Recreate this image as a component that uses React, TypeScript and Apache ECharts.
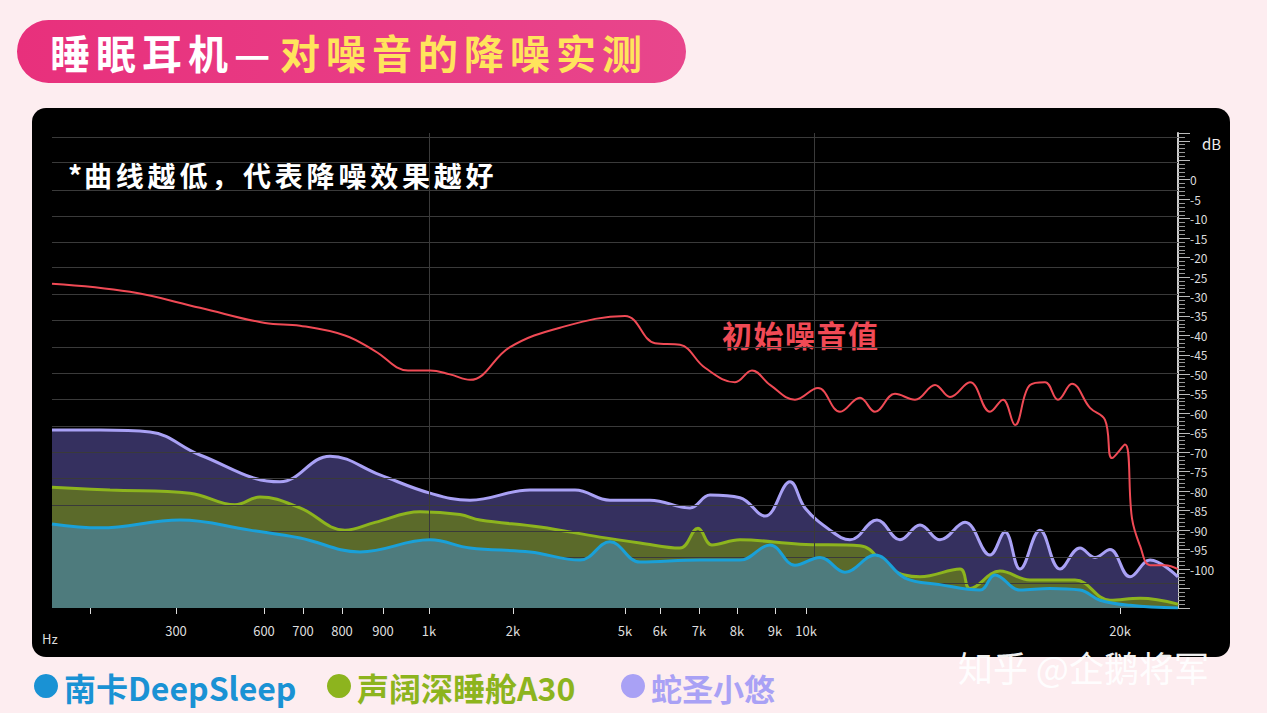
import React, { useEffect, useRef } from "react";
import * as echarts from "echarts";

// x values are positions along the frequency axis (0 = left edge, 1126 = right edge)
const tickPos = [38, 124, 212, 251, 290, 331, 377, 461, 573, 608, 647, 685, 723, 754, 1068];
const tickLabels = ["", "300", "600", "700", "800", "900", "1k", "2k", "5k", "6k", "7k", "8k", "9k", "10k", "20k"];
const gridPos = [377, 762];
const gridDb = [11, 4.4, -2.6, -9.3, -16, -22.6, -29.5, -36.2, -42.9, -49.8, -56.5, -63.2, -69.9, -76.6, -83.5, -90.2, -96.9, -103.6];

const rawInit = [
  [0, -26.7], [78, -28.8], [148, -32.9], [213, -36.8], [248, -37.5], [293, -40], [323, -44], [356, -49],
  [378, -49], [398, -50], [418, -51.4], [458, -43], [508, -38], [573, -35], [603, -42], [628, -42.4],
  [653, -48.3], [683, -52], [700, -49], [718, -52.7], [743, -56.5], [766, -53.5], [788, -59.6], [808, -56],
  [823, -59.6], [843, -55], [863, -56.5], [883, -52.7], [898, -55.8], [918, -52], [938, -59.6], [951, -56.5],
  [963, -63], [978, -52.7], [993, -52], [1006, -56.5], [1020, -52.4], [1038, -58.6], [1053, -61.7],
  [1060, -71.5], [1073, -68], [1080, -87], [1088, -94], [1098, -99], [1113, -99], [1126, -100],
];
const snakeSaint = [
  [0, -64.3], [48, -64.3], [98, -64.8], [148, -70.7], [228, -77.6], [278, -71], [328, -75.8], [378, -80.5],
  [418, -82.3], [478, -79.7], [523, -79.7], [558, -82.3], [598, -82.3], [638, -84.3], [658, -81], [688, -81.7],
  [713, -86.4], [738, -77.6], [753, -84.3], [778, -90], [798, -92.5], [825, -87.4], [848, -92.5], [868, -88.7],
  [888, -92.5], [913, -88], [938, -96.4], [953, -90.5], [968, -100], [988, -90], [1008, -100], [1028, -94.6],
  [1043, -97], [1058, -95], [1078, -102], [1098, -97.7], [1126, -102],
];
const soundcore = [
  [0, -79], [58, -79.7], [138, -80.5], [183, -83.5], [208, -81.5], [248, -84.3], [293, -90], [323, -88],
  [368, -85.3], [408, -86], [428, -87.4], [488, -89.2], [548, -91.8], [588, -93.3], [628, -94.6], [646, -89.5],
  [660, -93.8], [688, -92.5], [748, -93.6], [808, -94], [838, -100], [868, -102], [908, -100], [918, -105],
  [948, -100.5], [978, -102.8], [1023, -102.8], [1058, -108], [1088, -107.5], [1126, -109],
];
const nank = [
  [0, -88.4], [48, -89.4], [128, -87.4], [198, -90], [248, -92], [308, -95.6], [378, -92.5], [418, -94.6],
  [478, -95.6], [528, -97.7], [558, -93], [588, -98.2], [648, -97.7], [688, -97.7], [718, -93.8], [743, -99],
  [768, -97], [793, -100.8], [823, -96.4], [853, -102.3], [888, -104], [928, -105.4], [943, -101.5],
  [968, -105.4], [998, -105], [1028, -105.4], [1048, -108], [1078, -109.3], [1126, -110],
];

const font = "'Noto Sans CJK SC', 'Noto Sans', sans-serif";

// lay out a string one glyph at a time with a fixed pitch (the poster uses wide tracking)
const spaced = (text: string, x: number, y: number, pitch: number, fill: string, size: number, weight = "bold") =>
  Array.from(text).map((ch, i) => ({
    type: "text",
    x: x + i * pitch,
    y,
    style: { text: ch, fill, fontSize: size, fontWeight: weight, fontFamily: font, verticalAlign: "middle" },
  }));

const App = () => {
  const ref = useRef<HTMLDivElement>(null);

  useEffect(() => {
    const chart = echarts.init(ref.current, null, { renderer: "svg" });
    const area = (name: string, data: number[][], line: string, fill: string, z: number, extra = {}) => ({
      name,
      type: "line",
      data,
      smooth: 0.4,
      symbol: "none",
      z,
      lineStyle: { color: line, width: 3 },
      areaStyle: { color: fill, opacity: 1, origin: "start" },
      ...extra,
    });
    chart.setOption({
      animation: false,
      backgroundColor: "#fdedf0",
      textStyle: { fontFamily: font },
      grid: { left: 52, right: 89, top: 133, bottom: 105 },
      xAxis: {
        type: "value",
        min: 0,
        max: 1126,
        axisLine: { show: false, onZero: false },
        splitLine: { show: false },
        axisTick: { show: true, customValues: tickPos, length: 6, lineStyle: { color: "#ddd" } },
        axisLabel: {
          customValues: tickPos,
          color: "#ddd",
          fontSize: 13,
          margin: 16,
          formatter: (v: number) => tickLabels[tickPos.indexOf(v)] ?? "",
        },
      },
      yAxis: {
        type: "value",
        position: "right",
        min: -110,
        max: 12,
        interval: 5,
        axisLine: { show: true, onZero: false, lineStyle: { color: "#ccc", width: 2 } },
        axisTick: { show: true, length: 12, lineStyle: { color: "#bbb" } },
        minorTick: { show: true, splitNumber: 5, length: 7, lineStyle: { color: "#999" } },
        splitLine: { show: false },
        axisLabel: {
          color: "#ddd",
          fontSize: 12,
          margin: 12,
          formatter: (v: number) => (v <= 0 && v >= -100 ? String(v) : ""),
        },
      },
      graphic: [
        { type: "rect", z: -10, shape: { x: 32, y: 108, width: 1198, height: 549, r: 14 }, style: { fill: "#000" } },
        {
          type: "rect",
          shape: { x: 17, y: 20, width: 669, height: 63, r: 32 },
          style: {
            fill: new echarts.graphic.LinearGradient(0, 0, 1, 0, [
              { offset: 0, color: "#e8307c" },
              { offset: 1, color: "#e8468c" },
            ]),
          },
        },
        ...spaced("睡眠耳机—", 50, 52, 46, "#fff", 40),
        ...spaced("对噪音的降噪实测", 280, 52, 46, "#ffe45c", 40),
        ...spaced("*", 68, 175, 0, "#fff", 28),
        ...spaced("曲线越低，代表降噪效果越好", 84, 175, 31.8, "#fff", 28),
        ...spaced("初始噪音值", 722, 334, 31.5, "#f04a55", 30),
        { type: "text", x: 1202, y: 143, style: { text: "dB", fill: "#eee", fontSize: 15, fontFamily: font, verticalAlign: "middle" } },
        { type: "text", x: 42, y: 638, style: { text: "Hz", fill: "#ddd", fontSize: 13, fontFamily: font, verticalAlign: "middle" } },
        { type: "text", x: 958, y: 666, style: { text: "知乎 @企鹅将军", fill: "#fff", fontSize: 35, fontFamily: font, verticalAlign: "middle", opacity: 0.95 } },
        { type: "circle", shape: { cx: 46, cy: 686, r: 12 }, style: { fill: "#1a92d4" } },
        { type: "text", x: 64, y: 687, style: { text: "南卡DeepSleep", fill: "#1a92d4", fontSize: 32, fontWeight: "bold", fontFamily: font, verticalAlign: "middle" } },
        { type: "circle", shape: { cx: 339, cy: 686, r: 12 }, style: { fill: "#8db41e" } },
        { type: "text", x: 357, y: 687, style: { text: "声阔深睡舱A30", fill: "#8db41e", fontSize: 32, fontWeight: "bold", fontFamily: font, verticalAlign: "middle" } },
        { type: "circle", shape: { cx: 633, cy: 686, r: 12 }, style: { fill: "#a9a1f5" } },
        { type: "text", x: 651, y: 687, style: { text: "蛇圣小悠", fill: "#a9a1f5", fontSize: 31, fontWeight: "bold", fontFamily: font, verticalAlign: "middle" } },
      ],
      series: [
        area("蛇圣小悠", snakeSaint, "#a9a1f5", "#35305f", 3, {
          markLine: {
            silent: true,
            symbol: "none",
            label: { show: false },
            lineStyle: { color: "#3a3a3a", width: 1, type: "solid" },
            data: [...gridDb.map((v) => ({ yAxis: v })), ...gridPos.map((v) => ({ xAxis: v }))],
          },
        }),
        area("声阔深睡舱A30", soundcore, "#8db41e", "#5b6a2a", 4),
        area("南卡DeepSleep", nank, "#1aa0d8", "#4e7b7d", 5),
        {
          name: "初始噪音值",
          type: "line",
          data: rawInit,
          smooth: 0.4,
          symbol: "none",
          z: 6,
          lineStyle: { color: "#f04a55", width: 2 },
        },
      ],
    });
    return () => chart.dispose();
  }, []);

  return <div ref={ref} style={{ position: "fixed", left: 0, top: 0, width: 1267, height: 713 }} />;
};

export default App;
